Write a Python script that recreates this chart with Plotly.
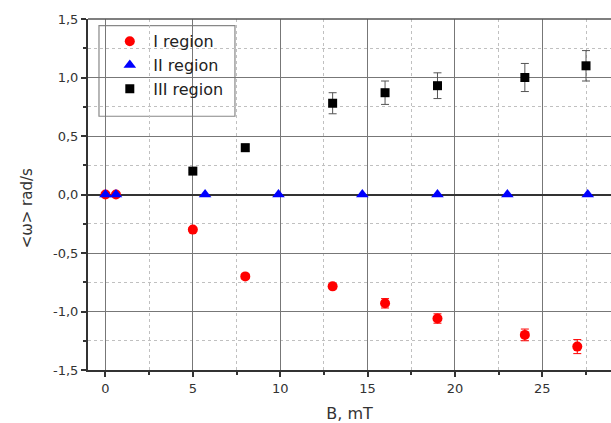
import plotly.graph_objects as go

# ---- data ----
b_I = [0, 0.6, 5, 8, 13, 16, 19, 24, 27]
w_I = [0, 0, -0.30, -0.70, -0.785, -0.93, -1.06, -1.20, -1.30]
e_I = [0, 0, 0.015, 0.02, 0.02, 0.04, 0.04, 0.05, 0.06]

b_II = [0, 0.6, 5.7, 9.9, 14.7, 19.0, 23.0, 27.6]
w_II = [0, 0, 0, 0, 0, 0, 0, 0]

b_III = [5, 8, 13, 16, 19, 24, 27.5]
w_III = [0.20, 0.40, 0.78, 0.87, 0.93, 1.00, 1.10]
e_III = [0.01, 0.03, 0.09, 0.10, 0.11, 0.12, 0.13]

x_ticks = [0, 5, 10, 15, 20, 25]
x_ticktext = ["0", "5", "10", "15", "20", "25"]
y_ticks = [-1.5, -1.0, -0.5, 0.0, 0.5, 1.0, 1.5]
y_ticktext = ["-1,5", "-1,0", "-0,5", "0,0", "0,5", "1,0", "1,5"]

FONT = "DejaVu Sans, Arial, sans-serif"

fig = go.Figure()
fig.add_trace(go.Scatter(
    x=b_I, y=w_I, mode="markers", name="I region",
    marker=dict(symbol="circle", size=10, color="#ff0000"),
    error_y=dict(type="data", array=e_I, color="#ff0000", thickness=1, width=4),
))
fig.add_trace(go.Scatter(
    x=b_II, y=w_II, mode="markers", name="II region",
    marker=dict(symbol="triangle-up", size=11, color="#0000ff"),
))
fig.add_trace(go.Scatter(
    x=b_III, y=w_III, mode="markers", name="III region",
    marker=dict(symbol="square", size=9, color="#000000"),
    error_y=dict(type="data", array=e_III, color="#555555", thickness=1, width=4),
))

axis_font = dict(family=FONT, size=13, color="#333333")

fig.update_layout(
    width=611, height=423,
    margin=dict(l=88, r=0, t=19, b=53, autoexpand=False),
    paper_bgcolor="white", plot_bgcolor="white",
    font=dict(family=FONT, color="#222222"),
    showlegend=True,
    legend=dict(
        x=0.035, y=0.985, xanchor="left", yanchor="top",
        bgcolor="rgba(0,0,0,0)", borderwidth=0,
        font=dict(family=FONT, size=16, color="#222222"),
        itemwidth=37, tracegroupgap=0,
    ),
    shapes=[
        dict(type="rect", xref="paper", yref="paper",
             x0=0.021, x1=0.281, y0=0.723, y1=0.981,
             line=dict(color="#888888", width=1.2), fillcolor="white", layer="below"),
        dict(type="line", xref="paper", yref="paper", x0=0, x1=1, y0=1, y1=1,
             line=dict(color="#555555", width=1.5)),
    ],
    annotations=[
        dict(text="<ω> rad/s", xref="paper", yref="paper",
             x=-0.117, y=0.46, xanchor="center", yanchor="middle",
             textangle=-90, showarrow=False,
             font=dict(family=FONT, size=15, color="#333333")),
    ],
)

fig.update_xaxes(
    range=[-1.0, 28.93],
    tickmode="array", tickvals=x_ticks, ticktext=x_ticktext,
    tickfont=axis_font,
    title=dict(text="B, mT", font=dict(family=FONT, size=16, color="#333333"), standoff=15),
    showline=True, linecolor="#333333", linewidth=2,
    ticks="outside", ticklen=5, tickwidth=1.5, tickcolor="#333333",
    showgrid=True, gridcolor="#777777", gridwidth=1,
    zeroline=False, automargin=False,
    minor=dict(dtick=2.5, tick0=0, ticks="outside", ticklen=3, tickcolor="#333333",
               showgrid=True, gridcolor="#c0c0c0", griddash="dot", gridwidth=1),
)
fig.update_yaxes(
    range=[-1.5, 1.5],
    tickmode="array", tickvals=y_ticks, ticktext=y_ticktext,
    tickfont=axis_font,
    showline=True, linecolor="#333333", linewidth=2,
    ticks="outside", ticklen=5, tickwidth=1.5, tickcolor="#333333",
    showgrid=True, gridcolor="#777777", gridwidth=1,
    zeroline=True, zerolinecolor="#333333", zerolinewidth=2,
    automargin=False,
    minor=dict(dtick=0.25, tick0=0, ticks="outside", ticklen=3, tickcolor="#333333",
               showgrid=True, gridcolor="#c0c0c0", griddash="dot", gridwidth=1),
)

fig.write_html("out.html", config={"displayModeBar": False},
               post_script="document.body.style.margin='0px';")
